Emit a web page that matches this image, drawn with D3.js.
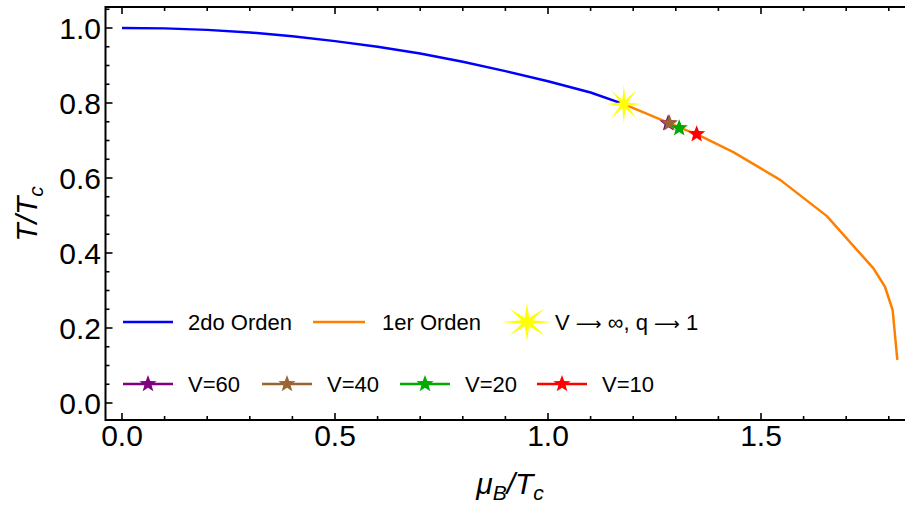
<!DOCTYPE html>
<html>
<head>
<meta charset="utf-8">
<script src="https://cdn.jsdelivr.net/npm/d3@7"></script>
<style>
  html, body { margin: 0; padding: 0; background: #fff; }
  svg { display: block; }
  text { font-family: "Liberation Sans", Arial, sans-serif; fill: #000; }
</style>
</head>
<body>
<svg id="chart" width="905" height="508"></svg>
<script>
// ---------------- data ----------------
const mu2nd = [0, 0.1, 0.2, 0.3, 0.4, 0.5, 0.6, 0.7, 0.8, 0.9, 1.0, 1.1, 1.178];
const T2nd  = [1.0, 0.999, 0.995, 0.988, 0.978, 0.965, 0.950, 0.932, 0.910, 0.885, 0.858, 0.828, 0.797];

const mu1st = [1.178, 1.30, 1.36, 1.435, 1.545, 1.654, 1.764, 1.791, 1.809, 1.820];
const T1st  = [0.797, 0.739, 0.711, 0.669, 0.595, 0.499, 0.359, 0.310, 0.248, 0.115];

const critMu = [1.178];
const critT  = [0.797];

const volLabels = ["V=60", "V=40", "V=20", "V=10"];
const volMu     = [1.282, 1.285, 1.308, 1.349];
const volT      = [0.746, 0.746, 0.733, 0.717];
const volColors = ["#800080", "#996633", "#00aa00", "#ff0000"];

const xMajor = [0, 0.5, 1.0, 1.5];
const xMajorLabels = ["0.0", "0.5", "1.0", "1.5"];
const yMajor = [0, 0.2, 0.4, 0.6, 0.8, 1.0];
const yMajorLabels = ["0.0", "0.2", "0.4", "0.6", "0.8", "1.0"];

const legendRow1 = ["2do Orden", "1er Orden"];

// ---------------- layout ----------------
const svg = d3.select("#chart");
const x = d3.scaleLinear().domain([0, 1.8]).range([122, 122 + 1.8 * 426]);
const y = d3.scaleLinear().domain([0, 1]).range([403, 28]);

const frameLeft = 105.5, frameBottom = 420, frameTop = 7, frameRight = 912;

function starPath(cx, cy, n, rOut, rIn, sx) {
  sx = sx || 1;
  const pts = [];
  for (let i = 0; i < 2 * n; i++) {
    const r = i % 2 === 0 ? rOut : rIn;
    const a = -Math.PI / 2 + i * Math.PI / n;
    pts.push([cx + r * Math.cos(a) * sx, cy + r * Math.sin(a)]);
  }
  return "M" + pts.map(p => p[0].toFixed(2) + "," + p[1].toFixed(2)).join("L") + "Z";
}

// ---------------- frame + ticks ----------------
const g = svg.append("g");
g.append("path")
  .attr("d", `M${frameRight},${frameTop}H${frameLeft}V${frameBottom}H${frameRight}`)
  .attr("fill", "none").attr("stroke", "#000").attr("stroke-width", 2);

const xMinor = d3.range(0, 1.86, 0.1).filter(v => xMajor.every(m => Math.abs(m - v) > 1e-6));
const yMinor = d3.range(0, 1.051, 0.05).filter(v => yMajor.every(m => Math.abs(m - v) > 1e-6));

[[frameBottom, -1], [frameTop, 1]].forEach(([yy, dir]) => {
  g.selectAll(null).data(xMajor).enter().append("line")
    .attr("x1", d => x(d)).attr("x2", d => x(d))
    .attr("y1", yy).attr("y2", yy + dir * 7)
    .attr("stroke", "#000").attr("stroke-width", 1.6);
  g.selectAll(null).data(xMinor).enter().append("line")
    .attr("x1", d => x(d)).attr("x2", d => x(d))
    .attr("y1", yy).attr("y2", yy + dir * 4)
    .attr("stroke", "#000").attr("stroke-width", 1.6);
});
g.selectAll(null).data(yMajor).enter().append("line")
  .attr("x1", frameLeft).attr("x2", frameLeft + 7)
  .attr("y1", d => y(d)).attr("y2", d => y(d))
  .attr("stroke", "#000").attr("stroke-width", 1.6);
g.selectAll(null).data(yMinor).enter().append("line")
  .attr("x1", frameLeft).attr("x2", frameLeft + 4)
  .attr("y1", d => y(d)).attr("y2", d => y(d))
  .attr("stroke", "#000").attr("stroke-width", 1.6);

g.selectAll(null).data(xMajor).enter().append("text")
  .attr("x", d => x(d)).attr("y", 446)
  .attr("text-anchor", "middle").attr("font-size", 30)
  .text((d, i) => xMajorLabels[i]);
g.selectAll(null).data(yMajor).enter().append("text")
  .attr("x", 101).attr("y", d => y(d) + 10.5)
  .attr("text-anchor", "end").attr("font-size", 30)
  .text((d, i) => yMajorLabels[i]);

const xt = g.append("text").attr("x", 510).attr("y", 494)
  .attr("text-anchor", "middle").attr("font-size", 30).attr("font-style", "italic");
xt.append("tspan").text("\u03bc");
xt.append("tspan").text("B").attr("font-size", 21).attr("dy", 6);
xt.append("tspan").text("/").attr("dy", -6);
xt.append("tspan").text("T");
xt.append("tspan").text("c").attr("font-size", 21).attr("dy", 6);

const yt = g.append("text").attr("transform", "translate(37,214) rotate(-90)")
  .attr("text-anchor", "middle").attr("font-size", 30).attr("font-style", "italic");
yt.append("tspan").text("T/T");
yt.append("tspan").text("c").attr("font-size", 21).attr("dy", 6);

// ---------------- curves ----------------
const line = d3.line().x(d => x(d[0])).y(d => y(d[1]));
svg.append("path").datum(mu2nd.map((m, i) => [m, T2nd[i]]))
  .attr("d", line).attr("fill", "none").attr("stroke", "#0000ff").attr("stroke-width", 2.5);
svg.append("path").datum(mu1st.map((m, i) => [m, T1st[i]]))
  .attr("d", line).attr("fill", "none").attr("stroke", "#ff8000").attr("stroke-width", 2.5)
  .attr("stroke-linejoin", "round");

svg.selectAll(null).data(critMu).enter().append("path")
  .attr("d", (d, i) => starPath(x(d), y(critT[i]), 8, 19.5, 4.5, 0.9))
  .attr("fill", "#ffff00");

svg.selectAll(null).data(volMu).enter().append("path")
  .attr("d", (d, i) => starPath(x(d), y(volT[i]), 5, 9, 3.8))
  .attr("fill", (d, i) => volColors[i]);

// ---------------- legend ----------------
const leg = svg.append("g");
const r1y = 322, r2y = 384;
const row1Lines = [[123, 173, "#0000ff"], [313, 365, "#ff8000"]];
row1Lines.forEach(l => {
  leg.append("line").attr("x1", l[0]).attr("x2", l[1]).attr("y1", r1y).attr("y2", r1y)
    .attr("stroke", l[2]).attr("stroke-width", 2.5);
});
leg.append("path").attr("d", starPath(527, r1y, 8, 19, 4.5, 1.3)).attr("fill", "#ffff00");
const row1TextX = [188, 382];
legendRow1.forEach((t, i) => {
  leg.append("text").attr("x", row1TextX[i]).attr("y", r1y + 8).attr("font-size", 22).text(t);
});
const critLabel = leg.append("text").attr("x", 555).attr("y", r1y + 8).attr("font-size", 22);
critLabel.append("tspan").text("V ");
critLabel.append("tspan").text("\u27f6").attr("font-family", "DejaVu Sans").attr("font-size", 18);
critLabel.append("tspan").text(" \u221e, q ");
critLabel.append("tspan").text("\u27f6").attr("font-family", "DejaVu Sans").attr("font-size", 18);
critLabel.append("tspan").text(" 1");

const row2X = [123, 262, 400, 537];
volLabels.forEach((t, i) => {
  const x0 = row2X[i];
  leg.append("line").attr("x1", x0).attr("x2", x0 + 50).attr("y1", r2y).attr("y2", r2y)
    .attr("stroke", volColors[i]).attr("stroke-width", 2.5);
  leg.append("path").attr("d", starPath(x0 + 25, r2y, 5, 9, 3.8)).attr("fill", volColors[i]);
  leg.append("text").attr("x", x0 + 65).attr("y", r2y + 8).attr("font-size", 22).text(t);
});
</script>
</body>
</html>
